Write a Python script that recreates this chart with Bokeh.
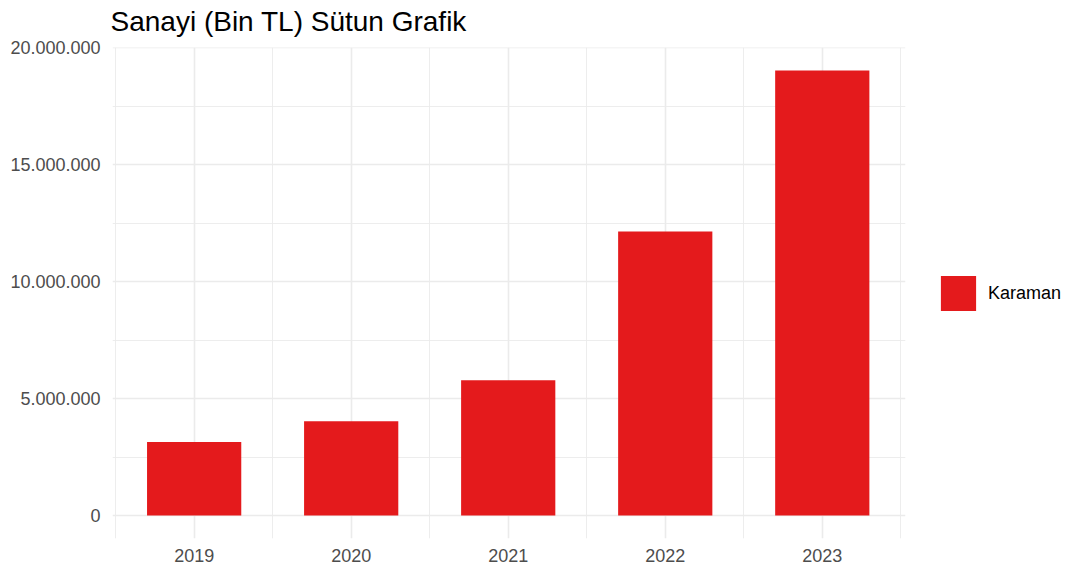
from bokeh.plotting import figure
from bokeh.models import ColumnDataSource, FixedTicker, Range1d, Legend, LegendItem
from bokeh.embed import file_html
from bokeh.resources import INLINE

years = ["2019", "2020", "2021", "2022", "2023"]
values = [3150000, 4040000, 5790000, 12150000, 19040000]
region = "Karaman"
y_ticks = [0, 5000000, 10000000, 15000000, 20000000]
y_labels = ["0", "5.000.000", "10.000.000", "15.000.000", "20.000.000"]

xs = list(range(1, len(years) + 1))
src = ColumnDataSource(dict(x=xs, top=values))

FONT = "Liberation Sans"

p = figure(frame_width=793, frame_height=491, output_backend="svg", toolbar_location=None,
           x_range=Range1d(0.48, 5.53), y_range=Range1d(-980000, 20020000),
           min_border_left=112, min_border_right=0, min_border_bottom=30, min_border_top=55)
p.styles = {"margin-top": "-8px"}
p.outline_line_color = None
p.background_fill_color = "white"

r = p.vbar(x="x", top="top", bottom=0, width=0.6, source=src,
           fill_color="#E41A1C", line_color=None)

p.title.text = "Sanayi (Bin TL) Sütun Grafik"
p.title.text_font = FONT
p.title.text_font_size = "28px"
p.title.text_font_style = "normal"
p.title.text_color = "black"
p.title.align = "left"
p.title.offset = -2
p.title.standoff = 22

p.xaxis.ticker = FixedTicker(ticks=xs, minor_ticks=[i + 0.5 for i in range(0, len(years) + 1)])
p.xaxis.major_label_overrides = {x: y for x, y in zip(xs, years)}
p.yaxis.ticker = FixedTicker(ticks=y_ticks, minor_ticks=[2500000, 7500000, 12500000, 17500000])
p.yaxis.major_label_overrides = {t: l for t, l in zip(y_ticks, y_labels)}

for ax in (p.xaxis, p.yaxis):
    ax.axis_line_color = None
    ax.major_tick_line_color = None
    ax.minor_tick_line_color = None
    ax.major_label_text_font = FONT
    ax.major_label_text_font_size = "18px"
    ax.major_label_text_color = "#4D4D4D"
p.xaxis.major_label_standoff = 4
p.yaxis.major_label_standoff = 6

for g in (p.xgrid, p.ygrid):
    g.grid_line_color = "#EBEBEB"
    g.grid_line_width = 1.6
    g.minor_grid_line_color = "#EBEBEB"
    g.minor_grid_line_width = 0.9

legend = Legend(items=[LegendItem(label=region, renderers=[r])],
                location=(31, 223), glyph_width=44, glyph_height=44,
                label_text_font=FONT, label_text_font_size="18px", label_text_color="black",
                border_line_color=None, background_fill_alpha=0,
                margin=0, padding=0, spacing=0, label_standoff=8)
p.add_layout(legend, "right")

open("out.html", "w").write(file_html(p, INLINE))
